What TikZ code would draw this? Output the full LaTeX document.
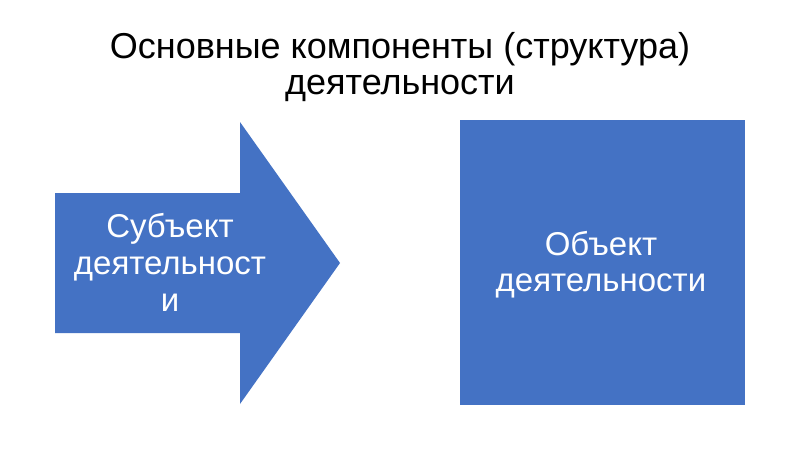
\documentclass[tikz,border=0pt]{standalone}
\usepackage{fontspec}
\setmainfont{Liberation Sans}
\definecolor{shapeblue}{HTML}{4472C4}
\begin{document}
\begin{tikzpicture}[x=1pt,y=-1pt,
  shapefill/.style={fill=shapeblue,draw=none},
  bigtext/.style={align=center,inner sep=0pt,anchor=base}]
\useasboundingbox (0,0) rectangle (800,450);
\fill[white] (0,0) rectangle (800,450);
\node[bigtext,text=black,font=\fontsize{36}{36}\selectfont] (title) at (400,94) {Основные компоненты (структура)\\деятельности};
\path[shapefill] (55,193) -- (240,193) -- (240,122) -- (340,263) -- (240,404) -- (240,333) -- (55,333) -- cycle;
\node[bigtext,text=white,font=\fontsize{33}{37}\selectfont] (subj) at (170,311) {Субъект\\деятельност\\и};
\path[shapefill] (460,120) rectangle (745,405);
\node[bigtext,text=white,font=\fontsize{33}{36}\selectfont] (obj) at (601,291) {Объект\\деятельности};
\end{tikzpicture}
\end{document}
